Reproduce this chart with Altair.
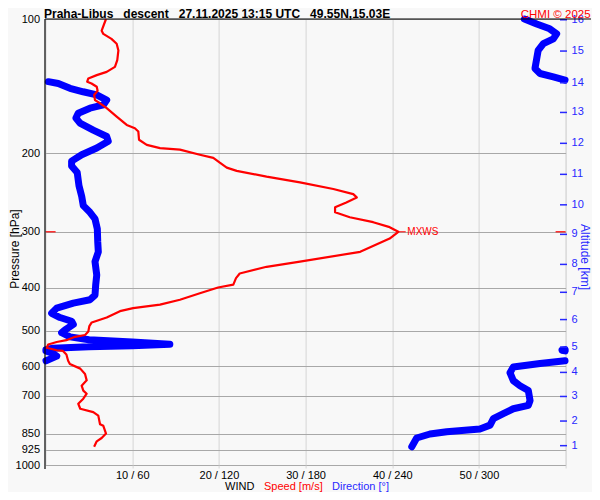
import altair as alt
import pandas as pd

# ---------------- data ----------------
# wind speed profile (m/s) vs pressure (hPa)
spd_p = [100, 106.2, 108, 110.8, 113.6, 117.6, 123.7, 128, 131.4, 133.6, 135.9, 138.2, 139.5, 141.9,
         144.8, 148, 152, 154.5, 158.5, 165.5, 172.8, 175.8, 178.8, 186.5, 191.5, 194.7, 196.3, 201.5,
         204.8, 210, 215.4, 219, 225.7, 232.4, 240.5, 247, 251.2, 257.8, 264.4, 271.3, 278.3, 285.5,
         292.9, 300, 310.6, 332.7, 350, 359.4, 372, 381, 394, 400, 412, 426, 437, 445, 452, 467, 479,
         488, 502, 511, 516, 525, 530, 537, 546, 553, 555, 565, 584, 594, 608, 625, 646, 664, 681, 692,
         710, 729, 748, 761, 775, 810, 817, 850, 870, 885, 910]
spd_ms = [6.97, 6.47, 6.66, 7.6, 8.2, 8.4, 8.27, 8.0, 7.05, 5.9, 4.93, 4.8, 5.3, 5.9,
          6.0, 5.6, 5.7, 6.28, 7.05, 8.2, 9.36, 10.3, 10.7, 10.78, 11.67, 13.2, 15.5, 17.8,
          19.35, 20.1, 20.9, 22.05, 25.5, 29.35, 33.2, 35.5, 35.9, 34.7, 33.4, 33.4, 35.1, 37.8,
          39.7, 40.7, 39.7, 36.3, 29.35, 25.5, 22.4, 21.97, 21.66, 19.9, 17.8, 15.5, 13.2, 10.1, 8.58, 7.05, 5.32,
          5.05, 4.93, 4.55, 3.4, 2.4, 1.28, 0.3, 0.13, 1.28, 2.0, 2.4, 2.6, 2.8, 4.0, 4.55, 4.74, 4.16, 4.35, 4.74,
          4.35, 3.77, 4.0, 5.5, 6.08, 6.28, 6.66, 6.97, 6.47, 5.9, 5.6]

# wind direction (deg) vs pressure, split where the direction wraps 360 -> 0
dirA_p = [100, 102.6, 105.2, 108, 110.8, 113.6, 117.6, 122.7, 129.1, 132.5, 134.8, 137.1]
dirA_deg = [331.5, 340, 349, 353.8, 351.5, 344.6, 341, 340, 338.8, 342.3, 351.5, 359.6]

dirB_p = [138.2, 139.5, 143, 145.6, 148, 152, 155.8, 158.5, 162.6, 166.8, 171.1, 177.4, 183.4, 188,
          194.7, 201.5, 208.3, 213.6, 221, 236.4, 249.8, 262.1, 271.3, 280.6, 295.5, 316.2, 332.7, 350,
          375, 394, 416, 426, 433.5, 445, 457, 467, 476, 484, 498, 505, 516, 524, 530, 536, 540, 543,
          547, 551]
dirB_deg = [1.9, 8.8, 16.9, 26, 35.4, 42.3, 40, 30.7, 22.6, 21, 23.8, 33, 42.3, 43.4,
            35.4, 25, 18, 18, 21.9, 23.1, 25, 26.1, 30.7, 34.2, 35.8, 36.1, 36.5, 34.2,
            35.4, 34.7, 34.2, 30.7, 19.2, 7.7, 4.2, 10, 18, 19.2, 13.4, 11.1, 16.9, 30, 60, 86, 60, 30,
            5, 0.3]

dirC_p = [551, 553, 555]
dirC_deg = [359.7, 357.5, 359.7]

dirD_p = [555, 562, 570, 579, 584]
dirD_deg = [0.3, 5, 7.7, 3, 0.3]

dirE_p = [584, 592, 603, 621, 647, 664, 681, 717, 735, 748, 767, 787, 814, 830, 842, 852, 870, 910]
dirE_deg = [359.6, 342.3, 323.8, 321.5, 323.8, 328.4, 334.2, 335.4, 334.2, 323.8, 316.9, 310, 307.7,
            300.7, 277.7, 266.1, 256.9, 253.5]

# altitude axis (km) at pressure levels
alt_km = [1, 2, 3, 4, 5, 6, 7, 8, 9, 10, 11, 12, 13, 14, 15, 16]
alt_p = [905, 797, 702, 620, 544, 472, 410, 355, 304, 261, 223, 190, 162, 139, 118, 100.4]

p_ticks = [100, 200, 300, 400, 500, 600, 700, 850, 925, 1000]
x_ticks = [10, 20, 30, 40, 50, 60]

mxws_speed = 40.7
mxws_p = 300

title_text = "Praha-Libus\u00a0\u00a0\u00a0descent\u00a0\u00a0\u00a027.11.2025 13:15 UTC\u00a0\u00a0\u00a049.55N,15.03E"

# ---------------- build tables ----------------
speed_df = pd.DataFrame({"p": spd_p, "speed": spd_ms})
speed_df["i"] = range(len(speed_df))

rows = []
for seg, (ps, ds) in enumerate([(dirA_p, dirA_deg), (dirB_p, dirB_deg), (dirC_p, dirC_deg),
                                (dirD_p, dirD_deg), (dirE_p, dirE_deg)]):
    for k, (pp, dd) in enumerate(zip(ps, ds)):
        rows.append({"p": pp, "deg": dd, "seg": seg, "i": k})
dir_df = pd.DataFrame(rows)

alt_df = pd.DataFrame({"p": alt_p, "km": [str(k) for k in alt_km]})

FONT = "Liberation Sans"
RED = "#FF0000"
BLUE = "#0000FF"
BLUE_TXT = "#2828FF"

W, H = 520, 446

xscale = alt.Scale(domain=[0, 60], nice=False, zero=True)
yscale = alt.Scale(type="log", domain=[100, 1000], reverse=True, nice=False)

xaxis = alt.Axis(values=x_ticks, labelExpr="datum.value < 60 ? datum.value + ' / ' + datum.value*6 : ''",
                 grid=True, gridColor="#D6D6D6", tickColor="#D6D6D6", tickSize=3, domain=False,
                 labelFontSize=11, labelFont=FONT, labelColor="black", labelPadding=1,
                 labelFlush=False, labelOverlap=False, title=None)
yaxis = alt.Axis(values=p_ticks, format="d", grid=True, gridColor="#A8A8A8", tickSize=0, domain=False,
                 labelFontSize=11, labelFont=FONT, labelColor="black", labelPadding=6,
                 labelFlush=False, labelOverlap=False, title=None)


def X(field="speed"):
    return alt.X(f"{field}:Q", scale=xscale, axis=xaxis)


def Y():
    return alt.Y("p:Q", scale=yscale, axis=yaxis)


one = alt.Data(values=[{}])

direction = alt.Chart(dir_df).transform_calculate(speed="datum.deg / 6").mark_line(
    color=BLUE, strokeWidth=7, strokeCap="round", strokeJoin="round"
).encode(x=X(), y=Y(), detail="seg:N", order="i:Q")

speed = alt.Chart(speed_df).mark_line(color=RED, strokeWidth=2.2, strokeJoin="round").encode(
    x=X(), y=Y(), order="i:Q")

mx_df = pd.DataFrame({"speed": [mxws_speed], "speed2": [mxws_speed + 0.85], "p": [mxws_p], "lab": ["MXWS"]})
mx_dash = alt.Chart(mx_df).mark_rule(color=RED, strokeWidth=1).encode(
    x=X(), x2=alt.X2("speed2:Q"), y=Y())
mx_text = alt.Chart(mx_df).mark_text(align="left", baseline="middle", dx=9, fontSize=10, font=FONT,
                                     color=RED).encode(x=X(), y=Y(), text="lab:N")
mx_left = alt.Chart(mx_df).mark_rule(color=RED, strokeWidth=1.2).encode(
    x=alt.value(0), x2=alt.value(10), y=Y())
mx_right = alt.Chart(mx_df).mark_rule(color=RED, strokeWidth=1.2).encode(
    x=alt.value(W - 10), x2=alt.value(W), y=Y())

alt_ticks = alt.Chart(alt_df).mark_rule(color=BLUE_TXT, strokeWidth=1.5).encode(
    y=Y(), x=alt.value(W - 5.6), x2=alt.value(W + 1.4))
alt_labels = alt.Chart(alt_df).mark_text(align="left", baseline="middle", fontSize=11, font=FONT,
                                         color=BLUE_TXT).encode(y=Y(), x=alt.value(W + 6), text="km:N")

top_line = alt.Chart(one).mark_rule(color="black", strokeWidth=1.2).encode(
    x=alt.value(-0.6), x2=alt.value(545.4), y=alt.value(0))
left_line = alt.Chart(one).mark_rule(color="black", strokeWidth=1.2).encode(
    x=alt.value(-0.6), y=alt.value(0), y2=alt.value(H + 4))


def label(text, x, y, color="black", size=11, weight="normal", angle=0, align="left", baseline="alphabetic"):
    return alt.Chart(one).mark_text(text=text, color=color, fontSize=size, fontWeight=weight, font=FONT,
                                    angle=angle, align=align, baseline=baseline).encode(
        x=alt.value(x), y=alt.value(y))


texts = [
    label(title_text, -1.6, -1.5, size=12, weight="bold"),
    label("CHMI \u00a9 2025", 545, -1.5, color=RED, size=11.5, align="right"),
    label("WIND", 179.4, H + 24.5),
    label("Speed [m/s]", 218.4, H + 24.5, color=RED),
    label("Direction [\u00b0]", 286.4, H + 24.5, color=BLUE_TXT),
    label("Pressure [hPa]", -31, 230, size=12, angle=270, align="center", baseline="middle"),
    label("Altitude [km]", 539.5, 238, color=BLUE_TXT, size=12, angle=90, align="center", baseline="middle"),
]

chart = alt.layer(
    direction, speed, mx_dash, mx_text, mx_left, mx_right, alt_ticks, alt_labels,
    top_line, left_line, *texts
).properties(
    width=W, height=H,
    padding={"left": 37.6, "top": 11, "right": 26.4, "bottom": 27},
    autosize=alt.AutoSizeParams(type="none"),
    background="#F8F8F8",
).configure_view(fill="#F0F0FF", stroke="transparent").configure(font=FONT)

chart.save("out.html", embed_options={"renderer": "svg", "actions": False})
